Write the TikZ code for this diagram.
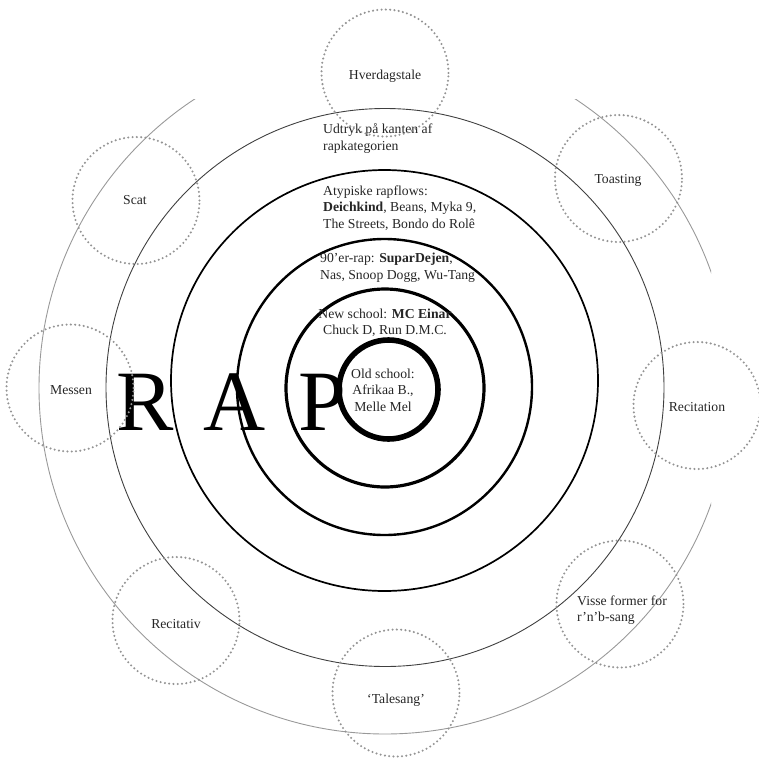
\documentclass[tikz,border=0pt]{standalone}
\usepackage{fontspec}
\setmainfont{Liberation Serif}
\begin{document}
\begin{tikzpicture}[x=1pt,y=-1pt,
  lbl/.style={font=\fontsize{13.7}{16.5}\selectfont, text=black!85, inner sep=0pt},
  dotc/.style={circle, draw=black!42, line width=2.3pt, dash pattern=on 0pt off 4.3pt, line cap=round, minimum size=127pt, inner sep=0pt},
  ringline/.style={draw=black},
]
\useasboundingbox (0,0) rectangle (759,764);

% big RAP letters
\node[anchor=base west, inner sep=0pt, font=\fontsize{86}{90}\selectfont] (rap) at (116.5,430) {R\hspace{29.8pt}A\hspace{32.8pt}P};

% outer ring (clipped)
\begin{scope}
  \clip (0,99) rectangle (711,764);
  \draw[draw=black!40, line width=0.9pt] (385,388) circle[radius=346];
\end{scope}
% concentric rings
\draw[draw=black!75, line width=0.9pt] (385,387.5) circle[radius=279];
\draw[ringline, line width=1.7pt] (384.5,380.5) ellipse[x radius=213.5, y radius=210.5];
\draw[ringline, line width=2.4pt] (384.5,387) ellipse[x radius=147.5, y radius=148];
\draw[ringline, line width=3.2pt] (385,388) circle[radius=99];
\draw[ringline, line width=5.6pt] (388.5,389.5) circle[radius=49.5];

% ring texts
\node[lbl, anchor=north west, align=left] (udtryk) at (323,123.5) {Udtryk på kanten af\\rapkategorien};
\node[lbl, anchor=north west, align=left] (atyp) at (323,185.5) {Atypiske rapflows:\\\textbf{Deichkind}, Beans, Myka 9,\\The Streets, Bondo do Rolê};
\node[lbl, anchor=north west, align=left] (nineties) at (320,253) {90’er-rap: \textbf{SuparDejen},\\Nas, Snoop Dogg, Wu-Tang};
\node[lbl, anchor=north, align=center] (newschool) at (385,308.5) {New school: \textbf{MC Einar}\\Chuck D, Run D.M.C.};
\node[lbl, anchor=north, align=center] (oldschool) at (383,368.5) {Old school:\\Afrikaa B.,\\Melle Mel};

% dotted satellite circles
\node[dotc] (c-hv) at (385,73) {};
\node[dotc] (c-to) at (618.5,178.5) {};
\node[dotc] (c-sc) at (136,200.5) {};
\node[dotc] (c-me) at (70,388) {};
\node[dotc] (c-rc) at (697,405.5) {};
\node[dotc] (c-rv) at (176,620.5) {};
\node[dotc] (c-ta) at (396,693) {};
\node[dotc] (c-vi) at (620,604) {};

% satellite labels
\node[lbl, anchor=base] (t-hv) at (385,79.6) {Hverdagstale};
\node[lbl, anchor=base] (t-to) at (618,183.6) {Toasting};
\node[lbl, anchor=base] (t-sc) at (135,204.5) {Scat};
\node[lbl, anchor=base] (t-me) at (71,394) {Messen};
\node[lbl, anchor=base] (t-rc) at (697,411.6) {Recitation};
\node[lbl, anchor=base] (t-rv) at (176,628) {Recitativ};
\node[lbl, anchor=base] (t-ta) at (396,703) {‘Talesang’};
\node[lbl, anchor=north west, align=left] (t-vi) at (577,595.5) {Visse former for\\r’n’b-sang};
\end{tikzpicture}
\end{document}
